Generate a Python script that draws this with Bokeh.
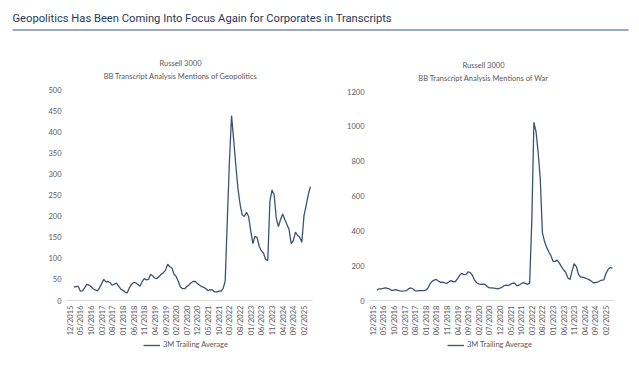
from math import pi
from bokeh.plotting import figure
from bokeh.models import Range1d, Legend, LegendItem, ColumnDataSource
from bokeh.core.properties import value
from bokeh.embed import file_html
from bokeh.resources import INLINE

# ---------------- data ----------------
# month index 0 = 12/2015, monthly steps; series start at index 2 (02/2016) and end at 113 (05/2025)
start_index = 2
tick_labels = ["12/2015", "05/2016", "10/2016", "03/2017", "08/2017", "01/2018",
               "06/2018", "11/2018", "04/2019", "09/2019", "02/2020", "07/2020",
               "12/2020", "05/2021", "10/2021", "03/2022", "08/2022", "01/2023",
               "06/2023", "11/2023", "04/2024", "09/2024", "02/2025"]

geopolitics = [32, 33, 34, 22, 23, 30, 38, 37, 33, 28,
               25, 23, 30, 40, 50, 44, 45, 42, 36, 39,
               41, 34, 27, 24, 20, 18, 30, 38, 43, 42,
               38, 34, 45, 52, 49, 50, 62, 58, 53, 52,
               57, 62, 66, 72, 86, 80, 77, 62, 57, 45,
               32, 28, 28, 33, 37, 42, 45, 45, 40, 36,
               33, 31, 28, 23, 26, 25, 21, 20, 22, 22,
               28, 45, 190, 330, 438, 380, 320, 265, 228, 203,
               199, 209, 199, 165, 135, 152, 149, 128, 118, 112,
               97, 95, 235, 262, 250, 195, 175, 192, 205, 192,
               180, 168, 135, 142, 162, 154, 150, 138, 201, 225,
               250, 270]

war = [60, 67, 67, 70, 73, 70, 66, 57, 60, 62,
       58, 55, 54, 55, 57, 68, 72, 66, 56, 55,
       57, 57, 57, 59, 70, 95, 110, 117, 121, 112,
       104, 106, 101, 99, 108, 114, 107, 109, 125, 145,
       157, 148, 150, 165, 160, 145, 118, 102, 96, 93,
       94, 92, 80, 72, 72, 71, 69, 67, 71, 76,
       86, 88, 86, 94, 99, 99, 84, 88, 96, 103,
       98, 93, 100, 450, 1023, 970, 850, 700, 390, 340,
       305, 280, 258, 225, 225, 232, 215, 195, 175, 162,
       130, 120, 170, 211, 195, 150, 134, 134, 130, 125,
       120, 112, 102, 102, 105, 112, 117, 119, 155, 178,
       190, 184]

geo_yticks = [0, 50, 100, 150, 200, 250, 300, 350, 400, 450, 500]
war_yticks = [0, 200, 400, 600, 800, 1000, 1200]

header_text = "Geopolitics Has Been Coming Into Focus Again for Corporates in Transcripts"
supertitle = "Russell 3000"
geo_title = "BB Transcript Analysis Mentions of Geopolitics"
war_title = "BB Transcript Analysis Mentions of War"
legend_label = "3M Trailing Average"

# ---------------- styling / layout (window pixel coordinates) ----------------
FONT = "Lato"
GRAY = "#595959"
LINE = "#3a5374"
W, H = 631, 369
PX0, PY0 = 0, 0                      # canvas origin in the window
X_LO, X_HI = -1.5, 114               # month-index domain of each chart

p = figure(width=W, height=H, output_backend="svg", toolbar_location=None,
           x_range=Range1d(PX0, PX0 + W), y_range=Range1d(PY0 + H, PY0),
           x_axis_location=None, y_axis_location=None, title=None,
           min_border_left=0, min_border_right=0, min_border_top=0, min_border_bottom=0)
p.outline_line_color = None
p.xgrid.grid_line_color = None
p.ygrid.grid_line_color = None
p.background_fill_color = "white"
p.border_fill_color = "white"

# header text and rule
p.text(x=[12], y=[18], text=[header_text], text_font=value("Roboto"),
       text_font_size="11.2px", text_color="#1f3a5a", text_align="left",
       text_baseline="middle")
p.segment(x0=[12], y0=[29.5], x1=[628], y1=[29.5], line_color="#9aaabb", line_width=2)


def chart(name, values, ymax, yticks, title, L, R, T, B, title_cx, legend_x):
    sx = (R - L) / (X_HI - X_LO)
    sy = (B - T) / ymax
    xr = Range1d(X_LO - (L - PX0) / sx, X_LO + (PX0 + W - L) / sx)
    yr = Range1d(-(PY0 + H - B) / sy, (B - PY0) / sy)
    xn, yn = "x_" + name, "y_" + name
    p.extra_x_ranges[xn] = xr
    p.extra_y_ranges[yn] = yr

    # baseline (x axis line)
    p.segment(x0=[X_LO], y0=[0], x1=[X_HI], y1=[0], line_color="#d9d9d9",
              line_width=1, x_range_name=xn, y_range_name=yn)

    # data line
    xs = list(range(start_index, start_index + len(values)))
    src = ColumnDataSource(dict(x=xs, y=values))
    r = p.line("x", "y", source=src, line_color=LINE, line_width=1.3,
               x_range_name=xn, y_range_name=yn)

    # y tick labels
    p.text(x=[L - 5] * len(yticks), y=yticks, text=[str(t) for t in yticks],
           y_range_name=yn, text_font=value(FONT), text_font_size="7.5px",
           text_color=GRAY, text_align="right", text_baseline="middle")

    # x tick labels (vertical)
    ticks = [5 * k for k in range(len(tick_labels))]
    p.text(x=ticks, y=[B + 5] * len(ticks), text=tick_labels, x_range_name=xn,
           angle=pi / 2, text_font=value(FONT), text_font_size="7.6px",
           text_color=GRAY, text_align="right", text_baseline="middle")

    # titles
    p.text(x=[title_cx, title_cx], y=[T - 26, T - 13], text=[supertitle, title],
           text_font=value(FONT), text_font_size="7.5px", text_color=GRAY,
           text_align="center", text_baseline="middle")

    leg = Legend(items=[LegendItem(label=legend_label, renderers=[r])],
                 location=(legend_x - PX0, PY0 + H - 349), orientation="horizontal",
                 padding=0, margin=0, border_line_color=None, background_fill_alpha=0,
                 glyph_width=17, glyph_height=8, label_height=8, label_standoff=3,
                 label_text_font=FONT, label_text_font_size="7.5px",
                 label_text_color=GRAY)
    p.add_layout(leg)


chart("geo", geopolitics, 500, geo_yticks, geo_title, 66, 312, 89, 300, 180, 143)
chart("war", war, 1200, war_yticks, war_title, 369, 614, 91, 300, 483, 447)

with open("out.html", "w") as f:
    f.write(file_html(p, INLINE))
